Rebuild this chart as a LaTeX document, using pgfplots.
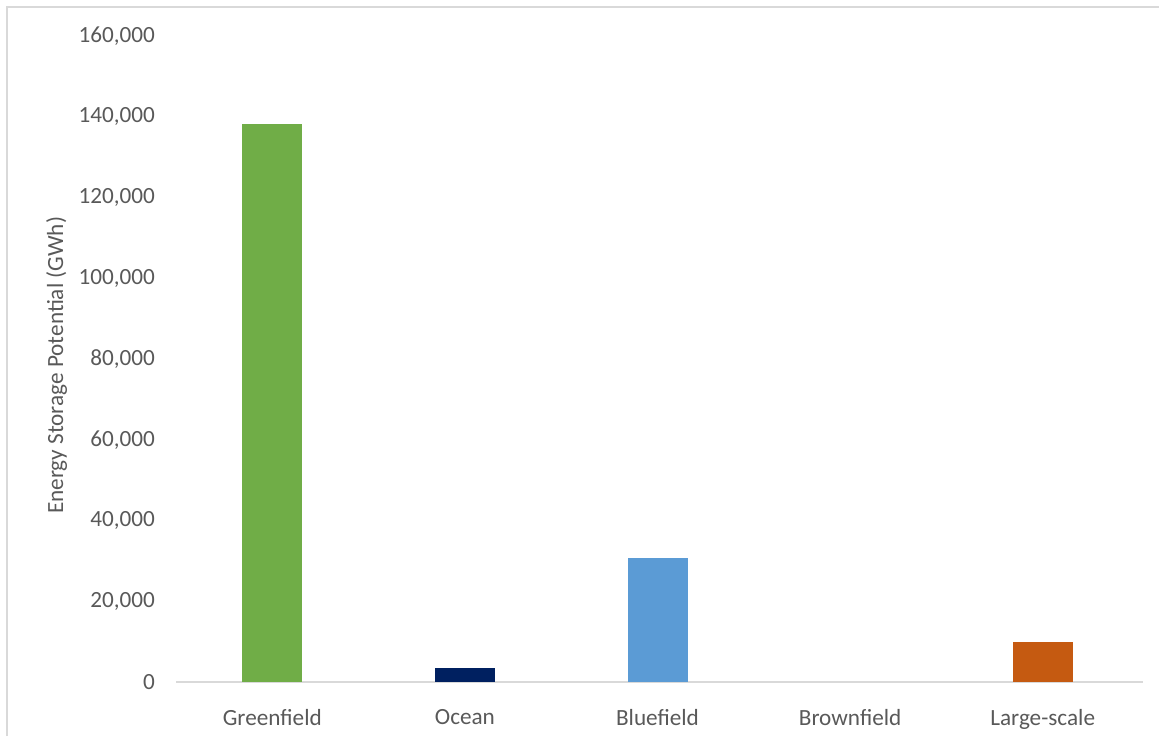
\documentclass[border=0pt]{standalone}
\usepackage{pgfplots}
\pgfplotsset{compat=1.18}
\usepackage{fontspec}
\setmainfont{Carlito}
\definecolor{txt}{HTML}{595959}
\definecolor{frame}{HTML}{D9D9D9}
\definecolor{cGreen}{HTML}{70AD47}
\definecolor{cOcean}{HTML}{002060}
\definecolor{cBlue}{HTML}{5B9BD5}
\definecolor{cOrange}{HTML}{C55A11}
\begin{document}
\begin{tikzpicture}
\path[use as bounding box] (0,0) rectangle (579.5pt,-368pt);
\draw[frame, line width=0.9pt] (3.5pt,-368pt) -- (3.5pt,-3.5pt) -- (579.5pt,-3.5pt);
\begin{axis}[
  at={(88pt,-341pt)}, anchor=south west,
  scale only axis, width=481.5pt, height=323pt,
  xmin=-0.5, xmax=4.5, ymin=0, ymax=160000,
  xtick={0,1,2,3,4},
  xticklabels={Greenfield,Ocean,Bluefield,Brownfield,Large-scale},
  ytick distance=20000,
  scaled y ticks=false,
  /pgf/number format/.cd, fixed, 1000 sep={,}, assume math mode=true, /pgfplots/.cd,
  axis x line*=bottom, axis y line*=left,
  x axis line style={frame, line width=0.9pt, -, shorten >=-2pt},
  y axis line style={draw=none},
  tick style={draw=none},
  ticklabel style={font=\fontsize{11.6}{13.5}\selectfont, text=txt},
  yticklabel style={xshift=-7pt},
  xticklabel style={yshift=-6pt},
  ylabel={Energy Storage Potential (GWh)},
  ylabel style={font=\fontsize{11.6}{13.5}\selectfont, text=txt,
    at={(axis description cs:-0.124,0.49)}, anchor=center},
  ybar, bar width=30pt,
  every axis plot/.append style={draw=none, bar shift=0pt},
]
\addplot[fill=cGreen] coordinates {(0,138200)};
\addplot[fill=cOcean] coordinates {(1,3500)};
\addplot[fill=cBlue] coordinates {(2,30700)};
% Brownfield: 0 GWh, no visible bar
\addplot[fill=none] coordinates {(3,0)};
\addplot[fill=cOrange] coordinates {(4,9900)};
\end{axis}
\end{tikzpicture}
\end{document}
